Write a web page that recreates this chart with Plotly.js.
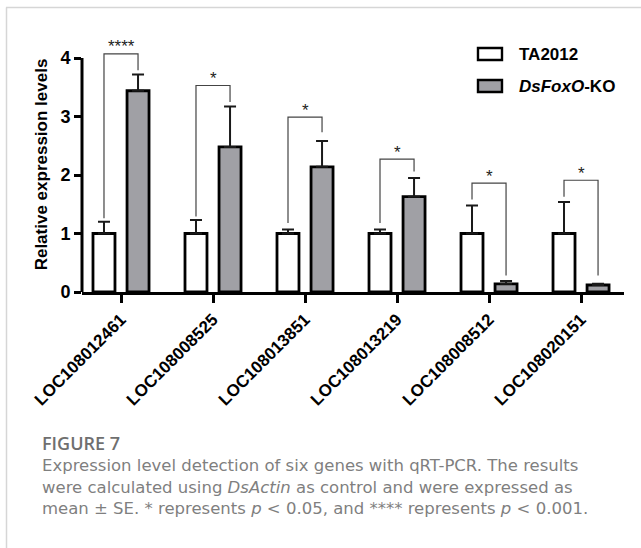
<!DOCTYPE html>
<html>
<head>
<meta charset="utf-8">
<script src="https://cdn.plot.ly/plotly-3.0.1.min.js"></script>
<style>
  html, body { margin: 0; padding: 0; background: #ffffff; }
  #chart { width: 641px; height: 548px; }
</style>
</head>
<body>
<div id="chart"></div>
<script>
// ---- data ----
const genes = ['LOC108012461', 'LOC108008525', 'LOC108013851', 'LOC108013219', 'LOC108008512', 'LOC108020151'];
const ta2012Mean = [1.00, 1.00, 1.00, 1.00, 1.00, 1.00];
const ta2012SE   = [0.20, 0.23, 0.07, 0.07, 0.48, 0.54];
const koMean     = [3.44, 2.48, 2.14, 1.63, 0.14, 0.12];
const koSE       = [0.28, 0.69, 0.44, 0.32, 0.05, 0.02];
const sigLabels  = ['****', '*', '*', '*', '*', '*'];
const bracketTop       = [4.07, 3.53, 2.99, 2.27, 1.86, 1.91];
const bracketLeftFoot  = [1.26, 1.29, 1.18, 1.18, 1.58, 1.63];
const bracketRightFoot = [3.79, 3.25, 2.73, 2.06, 0.28, 0.28];
const yTicks = [0, 1, 2, 3, 4];
const seriesNames = ['TA2012', 'DsFoxO-KO'];
const captionTitle = 'FIGURE 7';
const captionLines = [
  'Expression level detection of six genes with qRT-PCR. The results',
  'were calculated using <i>DsActin</i> as control and were expressed as',
  'mean ± SE. * represents <i>p</i> &lt; 0.05, and **** represents <i>p</i> &lt; 0.001.'
];

// ---- styling ----
const FONT = 'Liberation Sans, Arial, Helvetica, sans-serif';
const CAPFONT = 'DejaVu Sans, Open Sans, sans-serif';
const KO_GREY = '#a0a0a5';
const BAR_OFFSET = 0.185; // half distance between paired bar centres (category units)

const idx = genes.map((_, i) => i);
const zeros = genes.map(() => 0);

const traces = [
  {
    type: 'bar', name: seriesNames[0], x: idx, y: ta2012Mean,
    marker: { color: '#ffffff', line: { color: '#000000', width: 2.8 } },
    error_y: { type: 'data', symmetric: false, array: ta2012SE, arrayminus: zeros,
               color: '#1a1a1a', thickness: 2, width: 6 },
    showlegend: false, hoverinfo: 'skip'
  },
  {
    type: 'bar', name: seriesNames[1], x: idx, y: koMean,
    marker: { color: KO_GREY, line: { color: '#000000', width: 2.8 } },
    error_y: { type: 'data', symmetric: false, array: koSE, arrayminus: zeros,
               color: '#1a1a1a', thickness: 2, width: 6 },
    showlegend: false, hoverinfo: 'skip'
  }
];

// significance brackets
idx.forEach(i => {
  traces.push({
    type: 'scatter', mode: 'lines',
    x: [i - BAR_OFFSET, i - BAR_OFFSET, i + BAR_OFFSET, i + BAR_OFFSET],
    y: [bracketLeftFoot[i], bracketTop[i], bracketTop[i], bracketRightFoot[i]],
    line: { color: '#444444', width: 1.2 },
    showlegend: false, hoverinfo: 'skip'
  });
});

const annotations = idx.map(i => ({
  x: i, y: bracketTop[i], xref: 'x', yref: 'y',
  text: sigLabels[i], showarrow: false,
  xanchor: 'center', yanchor: 'middle', yshift: 7,
  font: { family: FONT, size: 17, color: '#222222' }
}));

// legend (drawn manually to match the wide rectangle keys)
annotations.push(
  { x: 0.8026, y: 0.9314, xref: 'paper', yref: 'paper', xanchor: 'left', yanchor: 'middle',
    text: '<b>' + seriesNames[0] + '</b>', showarrow: false,
    font: { family: FONT, size: 17, color: '#000000' } },
  { x: 0.8026, y: 0.8051, xref: 'paper', yref: 'paper', xanchor: 'left', yanchor: 'middle',
    text: '<b><i>DsFoxO</i>-KO</b>', showarrow: false,
    font: { family: FONT, size: 17, color: '#000000' } }
);

// caption (one multi-line text block)
annotations.push({
  x: -0.0775, y: -0.537, xref: 'paper', yref: 'paper', xanchor: 'left', yanchor: 'top',
  align: 'left', showarrow: false,
  text: '<span style="font-family:Open Sans;font-weight:600;font-size:18px;color:#6f6f6f">' +
        captionTitle + '</span><br>' + captionLines.join('<br>'),
  font: { family: CAPFONT, size: 16.5, color: '#7f7f7f' }
});

const shapes = [
  // y axis line (0 to 4 only)
  { type: 'line', xref: 'paper', yref: 'y', x0: 0, x1: 0, y0: 0, y1: 4,
    line: { color: '#000000', width: 3 } },
  // legend keys
  { type: 'rect', xref: 'paper', yref: 'paper', x0: 0.7306, x1: 0.7749, y0: 0.9098, y1: 0.9569,
    fillcolor: '#ffffff', line: { color: '#000000', width: 2.4 } },
  { type: 'rect', xref: 'paper', yref: 'paper', x0: 0.7306, x1: 0.7749, y0: 0.7843, y1: 0.8314,
    fillcolor: KO_GREY, line: { color: '#000000', width: 2.4 } },
  // figure frame
  { type: 'line', xref: 'paper', yref: 'paper', x0: -0.1402, x1: 1.04, y0: 1.1157, y1: 1.1157,
    line: { color: '#d6d6d6', width: 1.5 } },
  { type: 'line', xref: 'paper', yref: 'paper', x0: -0.1393, x1: -0.1393, y0: 1.1157, y1: -1.01,
    line: { color: '#d6d6d6', width: 1.5 } }
];

const layout = {
  width: 641, height: 548,
  margin: { l: 82, r: 17, t: 37, b: 256, pad: 0 },
  paper_bgcolor: '#ffffff', plot_bgcolor: '#ffffff',
  barmode: 'group', bargap: 0.26, bargroupgap: 0.354,
  showlegend: false,
  font: { family: FONT, color: '#000000' },
  xaxis: {
    range: [-0.424, 5.467],
    tickmode: 'array', tickvals: idx, ticktext: genes,
    tickangle: -45,
    tickfont: { family: FONT, size: 17, color: '#000000', weight: 700 },
    showline: true, linecolor: '#000000', linewidth: 3,
    ticks: 'outside', ticklen: 8, tickwidth: 3, tickcolor: '#000000',
    showgrid: false, zeroline: false, fixedrange: true
  },
  yaxis: {
    range: [0, 4.359],
    tickmode: 'array', tickvals: yTicks, ticktext: yTicks.map(String),
    tickfont: { family: FONT, size: 18, color: '#000000', weight: 700 },
    showline: false,
    ticks: 'outside', ticklen: 7, tickwidth: 3, tickcolor: '#000000',
    showgrid: false, zeroline: false, fixedrange: true,
    title: { text: 'Relative expression levels', standoff: 8,
             font: { family: FONT, size: 17, color: '#000000', weight: 700 } }
  },
  annotations: annotations,
  shapes: shapes
};

Plotly.newPlot('chart', traces, layout, { displayModeBar: false, staticPlot: true });
</script>
</body>
</html>
